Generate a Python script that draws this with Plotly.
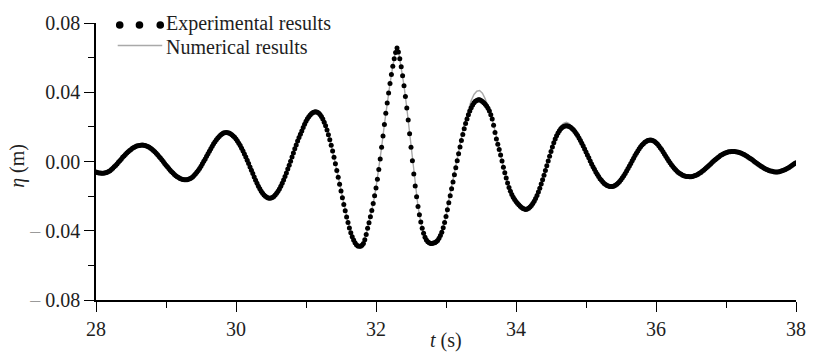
import numpy as np
import plotly.graph_objects as go

# ---------------- data ----------------
# Experimental surface elevation, sampled every 0.02 s from t = 28.00 s to 38.00 s
T0_EXP = 28.0
DT_EXP = 0.02
eta_exp = [
    -0.0060, -0.0063, -0.0066, -0.0067, -0.0068, -0.0068, -0.0067, -0.0065, -0.0062, -0.0058,
    -0.0053, -0.0046, -0.0039, -0.0031, -0.0023, -0.0014, -0.0004, 0.0004, 0.0013, 0.0024,
    0.0032, 0.0041, 0.0049, 0.0057, 0.0064, 0.0070, 0.0076, 0.0081, 0.0085, 0.0089,
    0.0091, 0.0093, 0.0094, 0.0095, 0.0094, 0.0093, 0.0090, 0.0087, 0.0082, 0.0077,
    0.0071, 0.0064, 0.0056, 0.0048, 0.0039, 0.0029, 0.0020, 0.0010, 0.0000, -0.0011,
    -0.0021, -0.0031, -0.0040, -0.0050, -0.0059, -0.0067, -0.0075, -0.0082, -0.0088, -0.0093,
    -0.0098, -0.0101, -0.0104, -0.0105, -0.0106, -0.0105, -0.0103, -0.0100, -0.0095, -0.0089,
    -0.0081, -0.0072, -0.0062, -0.0052, -0.0040, -0.0027, -0.0013, 0.0001, 0.0015, 0.0030,
    0.0045, 0.0059, 0.0074, 0.0088, 0.0102, 0.0114, 0.0126, 0.0136, 0.0145, 0.0153,
    0.0159, 0.0164, 0.0166, 0.0167, 0.0166, 0.0164, 0.0160, 0.0155, 0.0148, 0.0140,
    0.0130, 0.0118, 0.0106, 0.0092, 0.0077, 0.0061, 0.0044, 0.0026, 0.0007, -0.0012,
    -0.0032, -0.0051, -0.0070, -0.0090, -0.0108, -0.0126, -0.0143, -0.0158, -0.0172, -0.0184,
    -0.0193, -0.0201, -0.0206, -0.0211, -0.0212, -0.0211, -0.0208, -0.0202, -0.0194, -0.0184,
    -0.0172, -0.0159, -0.0143, -0.0126, -0.0107, -0.0087, -0.0066, -0.0044, -0.0021, 0.0002,
    0.0026, 0.0049, 0.0073, 0.0096, 0.0119, 0.0139, 0.0157, 0.0176, 0.0196, 0.0215,
    0.0232, 0.0247, 0.0259, 0.0269, 0.0277, 0.0283, 0.0286, 0.0287, 0.0285, 0.0280,
    0.0272, 0.0260, 0.0245, 0.0227, 0.0206, 0.0182, 0.0155, 0.0126, 0.0094, 0.0060,
    0.0024, -0.0013, -0.0052, -0.0091, -0.0131, -0.0171, -0.0210, -0.0248, -0.0285, -0.0320,
    -0.0353, -0.0384, -0.0411, -0.0434, -0.0454, -0.0469, -0.0481, -0.0488, -0.0490, -0.0489,
    -0.0484, -0.0473, -0.0452, -0.0421, -0.0386, -0.0354, -0.0319, -0.0283, -0.0243, -0.0198,
    -0.0153, -0.0102, -0.0046, 0.0014, 0.0082, 0.0148, 0.0214, 0.0278, 0.0338, 0.0396,
    0.0450, 0.0502, 0.0550, 0.0594, 0.0630, 0.0655, 0.0633, 0.0594, 0.0548, 0.0496,
    0.0438, 0.0375, 0.0309, 0.0240, 0.0160, 0.0082, 0.0004, -0.0072, -0.0142, -0.0204,
    -0.0260, -0.0308, -0.0350, -0.0386, -0.0415, -0.0438, -0.0454, -0.0464, -0.0470, -0.0473,
    -0.0473, -0.0471, -0.0469, -0.0464, -0.0456, -0.0443, -0.0428, -0.0408, -0.0383, -0.0353,
    -0.0318, -0.0278, -0.0238, -0.0198, -0.0158, -0.0118, -0.0077, -0.0036, 0.0005, 0.0045,
    0.0084, 0.0121, 0.0156, 0.0189, 0.0219, 0.0246, 0.0270, 0.0292, 0.0311, 0.0327,
    0.0339, 0.0348, 0.0353, 0.0356, 0.0356, 0.0353, 0.0347, 0.0340, 0.0331, 0.0320,
    0.0307, 0.0292, 0.0270, 0.0245, 0.0210, 0.0168, 0.0130, 0.0100, 0.0070, 0.0037,
    0.0003, -0.0033, -0.0065, -0.0095, -0.0124, -0.0150, -0.0172, -0.0190, -0.0206, -0.0219,
    -0.0231, -0.0241, -0.0250, -0.0258, -0.0265, -0.0271, -0.0275, -0.0277, -0.0275, -0.0270,
    -0.0263, -0.0254, -0.0243, -0.0230, -0.0214, -0.0196, -0.0176, -0.0154, -0.0130, -0.0105,
    -0.0079, -0.0052, -0.0025, 0.0003, 0.0031, 0.0058, 0.0084, 0.0108, 0.0130, 0.0149,
    0.0165, 0.0178, 0.0189, 0.0197, 0.0202, 0.0205, 0.0206, 0.0205, 0.0202, 0.0198,
    0.0191, 0.0183, 0.0173, 0.0162, 0.0150, 0.0136, 0.0121, 0.0105, 0.0089, 0.0072,
    0.0055, 0.0038, 0.0021, 0.0003, -0.0014, -0.0030, -0.0045, -0.0060, -0.0074, -0.0087,
    -0.0099, -0.0109, -0.0119, -0.0127, -0.0133, -0.0138, -0.0142, -0.0144, -0.0145, -0.0144,
    -0.0142, -0.0137, -0.0132, -0.0124, -0.0116, -0.0106, -0.0094, -0.0082, -0.0069, -0.0055,
    -0.0040, -0.0026, -0.0011, 0.0005, 0.0019, 0.0034, 0.0048, 0.0061, 0.0073, 0.0085,
    0.0095, 0.0103, 0.0111, 0.0116, 0.0121, 0.0123, 0.0124, 0.0123, 0.0120, 0.0115,
    0.0109, 0.0101, 0.0091, 0.0080, 0.0069, 0.0056, 0.0044, 0.0031, 0.0018, 0.0005,
    -0.0007, -0.0019, -0.0029, -0.0039, -0.0048, -0.0056, -0.0063, -0.0069, -0.0074, -0.0079,
    -0.0082, -0.0085, -0.0086, -0.0087, -0.0088, -0.0088, -0.0086, -0.0084, -0.0081, -0.0078,
    -0.0073, -0.0068, -0.0063, -0.0057, -0.0050, -0.0043, -0.0036, -0.0029, -0.0021, -0.0014,
    -0.0006, 0.0001, 0.0008, 0.0015, 0.0022, 0.0028, 0.0034, 0.0039, 0.0044, 0.0048,
    0.0051, 0.0054, 0.0056, 0.0057, 0.0058, 0.0058, 0.0058, 0.0057, 0.0055, 0.0053,
    0.0051, 0.0047, 0.0044, 0.0040, 0.0035, 0.0030, 0.0025, 0.0019, 0.0014, 0.0008,
    0.0002, -0.0004, -0.0010, -0.0016, -0.0021, -0.0027, -0.0032, -0.0037, -0.0042, -0.0046,
    -0.0049, -0.0053, -0.0055, -0.0057, -0.0059, -0.0060, -0.0060, -0.0060, -0.0059, -0.0057,
    -0.0054, -0.0051, -0.0047, -0.0043, -0.0039, -0.0034, -0.0029, -0.0023, -0.0018, -0.0012,
    -0.0007,
]

# Numerical surface elevation, sampled every 0.04 s from t = 28.00 s to 38.00 s
T0_NUM = 28.0
DT_NUM = 0.04
eta_num = [
    -0.0060, -0.0066, -0.0068, -0.0067, -0.0062,
    -0.0053, -0.0039, -0.0023, -0.0004, 0.0013,
    0.0032, 0.0049, 0.0064, 0.0076, 0.0085,
    0.0091, 0.0094, 0.0094, 0.0090, 0.0082,
    0.0071, 0.0056, 0.0039, 0.0020, 0.0000,
    -0.0021, -0.0040, -0.0059, -0.0075, -0.0088,
    -0.0098, -0.0104, -0.0106, -0.0103, -0.0095,
    -0.0081, -0.0062, -0.0040, -0.0013, 0.0015,
    0.0045, 0.0074, 0.0102, 0.0126, 0.0145,
    0.0159, 0.0166, 0.0166, 0.0160, 0.0148,
    0.0130, 0.0106, 0.0077, 0.0044, 0.0007,
    -0.0032, -0.0070, -0.0108, -0.0143, -0.0172,
    -0.0193, -0.0206, -0.0212, -0.0208, -0.0194,
    -0.0172, -0.0143, -0.0107, -0.0066, -0.0021,
    0.0026, 0.0073, 0.0119, 0.0157, 0.0196,
    0.0232, 0.0259, 0.0277, 0.0286, 0.0285,
    0.0272, 0.0245, 0.0206, 0.0155, 0.0094,
    0.0024, -0.0052, -0.0131, -0.0210, -0.0285,
    -0.0353, -0.0411, -0.0454, -0.0481, -0.0490,
    -0.0484, -0.0452, -0.0386, -0.0319, -0.0243,
    -0.0153, -0.0046, 0.0082, 0.0214, 0.0338,
    0.0450, 0.0550, 0.0640, 0.0642, 0.0548,
    0.0438, 0.0309, 0.0160, 0.0004, -0.0142,
    -0.0260, -0.0350, -0.0415, -0.0454, -0.0470,
    -0.0473, -0.0469, -0.0456, -0.0428, -0.0383,
    -0.0318, -0.0225, -0.0142, -0.0060, 0.0022,
    0.0102, 0.0176, 0.0243, 0.0302, 0.0352,
    0.0387, 0.0406, 0.0410, 0.0394, 0.0362,
    0.0320, 0.0270, 0.0212, 0.0138, 0.0072,
    0.0005, -0.0065, -0.0124, -0.0172, -0.0206,
    -0.0231, -0.0250, -0.0265, -0.0275, -0.0275,
    -0.0263, -0.0243, -0.0214, -0.0176, -0.0130,
    -0.0079, -0.0025, 0.0031, 0.0086, 0.0135,
    0.0176, 0.0205, 0.0220, 0.0226, 0.0219,
    0.0201, 0.0178, 0.0153, 0.0123, 0.0089,
    0.0055, 0.0021, -0.0014, -0.0045, -0.0074,
    -0.0099, -0.0119, -0.0133, -0.0142, -0.0145,
    -0.0142, -0.0132, -0.0116, -0.0094, -0.0069,
    -0.0040, -0.0011, 0.0019, 0.0048, 0.0073,
    0.0095, 0.0111, 0.0121, 0.0124, 0.0120,
    0.0109, 0.0091, 0.0069, 0.0044, 0.0018,
    -0.0007, -0.0029, -0.0048, -0.0063, -0.0074,
    -0.0082, -0.0086, -0.0088, -0.0086, -0.0081,
    -0.0073, -0.0063, -0.0050, -0.0036, -0.0021,
    -0.0006, 0.0008, 0.0022, 0.0034, 0.0044,
    0.0051, 0.0056, 0.0058, 0.0058, 0.0055,
    0.0051, 0.0044, 0.0035, 0.0025, 0.0014,
    0.0002, -0.0010, -0.0021, -0.0032, -0.0042,
    -0.0049, -0.0055, -0.0059, -0.0060, -0.0059,
    -0.0054, -0.0047, -0.0039, -0.0029, -0.0018,
    -0.0007,
]

x_tickvals = [28, 30, 32, 34, 36, 38]
x_ticktext = ["28", "30", "32", "34", "36", "38"]
x_minor = [29, 31, 33, 35, 37]
y_tickvals = [-0.08, -0.04, 0.0, 0.04, 0.08]
DASH = "<span style='color:#9a9a9a'>\u2013</span> "
y_ticktext = [DASH + "0.08", DASH + "0.04", "0.00", "0.04", "0.08"]
y_minor = [-0.06, -0.02, 0.02, 0.06]

legend_labels = ["Experimental results", "Numerical results"]
x_title = "<i>t</i> (s)"
y_title = "<i>\u03b7</i> (m)"

# sample timestamps
t_exp = T0_EXP + DT_EXP * np.arange(len(eta_exp))
t_num = T0_NUM + DT_NUM * np.arange(len(eta_num))

FONT = "Liberation Serif, Times New Roman, serif"
TXT = "#1e1e1e"
GRAY = "#a9a9a9"

fig = go.Figure()
fig.add_trace(go.Scatter(x=t_num, y=eta_num, mode="lines",
                         line=dict(color=GRAY, width=1.4), showlegend=False,
                         hoverinfo="skip"))
fig.add_trace(go.Scatter(x=t_exp, y=eta_exp, mode="markers",
                         marker=dict(color="black", size=5, line=dict(width=0)),
                         showlegend=False))

axis_common = dict(
    showline=True, linecolor="black", linewidth=1.5,
    ticks="outside", ticklen=10, tickwidth=1.3, tickcolor="black",
    showgrid=False, zeroline=False, mirror=False,
    tickfont=dict(family=FONT, size=20, color=TXT),
)

fig.update_layout(
    width=818, height=361,
    margin=dict(l=96, r=14, t=17, b=61),
    paper_bgcolor="white", plot_bgcolor="white",
    font=dict(family=FONT, size=20, color=TXT),
    showlegend=False,
    xaxis=dict(range=[28, 38], tickmode="array", tickvals=x_tickvals, ticktext=x_ticktext,
               minor=dict(tickmode="array", tickvals=x_minor, ticks="outside", ticklen=6,
                          tickwidth=1.3, tickcolor="black"),
               **axis_common),
    yaxis=dict(range=[-0.08, 0.08], tickmode="array", tickvals=y_tickvals, ticktext=y_ticktext,
               minor=dict(tickmode="array", tickvals=y_minor, ticks="outside", ticklen=6,
                          tickwidth=1.3, tickcolor="black"),
               **axis_common),
)

# axis titles
fig.add_annotation(text=x_title, xref="paper", yref="paper", x=0.5, y=-0.148,
                   showarrow=False, xanchor="center", yanchor="middle",
                   font=dict(family=FONT, size=20, color=TXT))
fig.add_annotation(text=y_title, xref="paper", yref="paper", x=-0.1116, y=0.484,
                   showarrow=False, xanchor="center", yanchor="middle", textangle=-90,
                   font=dict(family=FONT, size=20, color=TXT))

# legend (drawn manually: three dots + label, grey line + label)
for px in [0.0339, 0.0621, 0.0918]:
    fig.add_shape(type="circle", xref="paper", yref="paper",
                  xsizemode="pixel", ysizemode="pixel",
                  xanchor=px, yanchor=0.9929, x0=-3.8, x1=3.8, y0=-3.8, y1=3.8,
                  fillcolor="black", line=dict(width=0))
fig.add_shape(type="line", xref="paper", yref="paper",
              x0=0.031, x1=0.0946, y0=0.9187, y1=0.9187,
              line=dict(color=GRAY, width=1.4))
fig.add_annotation(text=legend_labels[0], xref="paper", yref="paper", x=0.0975, y=0.9965,
                   showarrow=False, xanchor="left", yanchor="middle",
                   font=dict(family=FONT, size=20, color=TXT))
fig.add_annotation(text=legend_labels[1], xref="paper", yref="paper", x=0.0975, y=0.915,
                   showarrow=False, xanchor="left", yanchor="middle",
                   font=dict(family=FONT, size=20, color=TXT))

fig.write_html("out.html")
